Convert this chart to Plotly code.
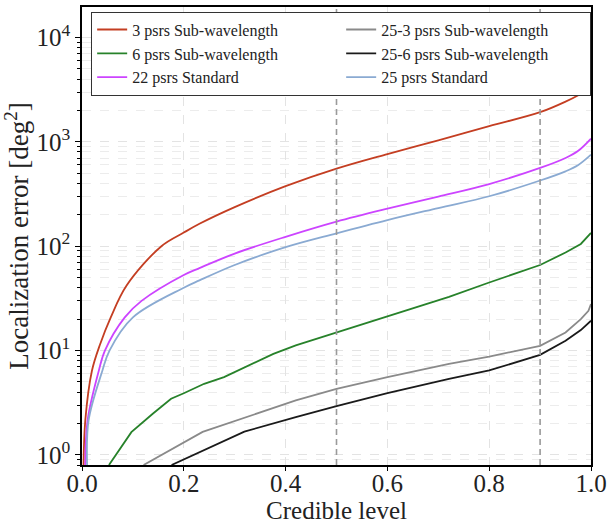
import numpy as np
import plotly.graph_objects as go

# Credible level vs. localization area for each pulsar configuration
red_x = [0.003, 0.0065, 0.0195, 0.0356, 0.0565, 0.0876, 0.156, 0.2, 0.2307, 0.3, 0.4, 0.5, 0.6, 0.7, 0.8, 0.9, 0.95, 0.975, 1.0]
red_y = [0.8, 2.15, 6.4, 11.5, 20.8, 42, 100, 135, 164, 237, 376, 554, 764, 1035, 1413, 1923, 2430, 2800, 3310]

mag_x = [0.0065, 0.011, 0.033, 0.045, 0.084, 0.117, 0.2, 0.2307, 0.3, 0.4, 0.5, 0.6, 0.7, 0.8, 0.9, 0.95, 0.975, 1.0]
mag_y = [0.8, 2.15, 6.4, 10, 20.8, 29.9, 53, 61.7, 85, 123, 172, 229, 299, 394, 562, 700, 820, 1072]

blue_x = [0.01, 0.013, 0.04, 0.054, 0.1, 0.2, 0.2307, 0.3, 0.4, 0.5, 0.6, 0.7, 0.8, 0.9, 0.95, 0.975, 1.0]
blue_y = [0.8, 2.15, 6.4, 10, 20.8, 40, 47, 66, 98, 133, 178, 232, 301, 426, 522, 600, 754]

green_x = [0.053, 0.097, 0.139, 0.175, 0.2, 0.24, 0.279, 0.376, 0.42, 0.5, 0.6, 0.721, 0.8, 0.9, 0.95, 0.98, 1.0]
green_y = [0.8, 1.65, 2.48, 3.45, 3.9, 4.8, 5.56, 9.3, 11.2, 14.9, 21.2, 32.7, 44.9, 66, 87, 105, 134]

gray_x = [0.121, 0.237, 0.42, 0.5, 0.6, 0.721, 0.8, 0.9, 0.95, 0.98, 0.995, 1.0]
gray_y = [0.8, 1.66, 3.33, 4.3, 5.56, 7.46, 8.75, 11.1, 14.9, 20, 24, 27.9]

black_x = [0.176, 0.319, 0.42, 0.5, 0.6, 0.721, 0.8, 0.9, 0.95, 0.98, 1.0]
black_y = [0.8, 1.67, 2.3, 2.94, 3.9, 5.36, 6.44, 9.1, 12.4, 15.7, 19.3]

x_ticks = [0.0, 0.2, 0.4, 0.6, 0.8, 1.0]
y_ticks = [1, 10, 100, 1000, 10000]
marker_levels = [0.5, 0.9]

FONT = "Liberation Serif"
TEXT = "#222222"

# legend fills row by row, so pairs are (left column, right column)
series = [
    ("3 psrs Sub-wavelength", red_x, red_y, "#c43e22", "spline"),
    ("25-3 psrs Sub-wavelength", gray_x, gray_y, "#8a8a8a", "linear"),
    ("6 psrs Sub-wavelength", green_x, green_y, "#27822a", "linear"),
    ("25-6 psrs Sub-wavelength", black_x, black_y, "#1a1a1a", "linear"),
    ("22 psrs Standard", mag_x, mag_y, "#cc44ff", "spline"),
    ("25 psrs Standard", blue_x, blue_y, "#8aaad2", "spline"),
]

fig = go.Figure()
for name, xs, ys, color, shape in series:
    fig.add_trace(go.Scatter(
        x=xs, y=ys, mode="lines", name=name,
        line=dict(color=color, width=1.8, shape=shape, smoothing=1.0),
    ))

for lv in marker_levels:
    fig.add_shape(type="line", xref="x", yref="paper", x0=lv, x1=lv, y0=0, y1=1,
                  line=dict(color="#9a9a9a", width=1.6, dash="6px,4px"), layer="above")

minor_vals = [m * 10 ** k for k in range(-1, 5) for m in range(2, 10)]
minor_vals = [v for v in minor_vals if 0.8 <= v <= 19600]

fig.update_layout(
    width=612, height=527,
    margin=dict(l=82, r=17, t=5, b=62),
    paper_bgcolor="white", plot_bgcolor="white",
    font=dict(family=FONT, color=TEXT),
    showlegend=True,
    legend=dict(
        x=0.018, y=0.99, xanchor="left", yanchor="top",
        orientation="h", entrywidth=204, entrywidthmode="pixels",
        bgcolor="white", bordercolor="#333333", borderwidth=1,
        font=dict(family=FONT, size=16, color=TEXT),
        itemwidth=30, tracegroupgap=0,
    ),
    xaxis=dict(
        range=[0, 1], tickvals=x_ticks, ticktext=[f"{v:.1f}" for v in x_ticks],
        ticks="outside", ticklen=4, tickwidth=1, tickcolor="black",
        ticklabelstandoff=-9,
        showline=True, linecolor="black", linewidth=1.5, mirror=True,
        showgrid=True, gridcolor="#e3e3e3", griddash="dash", gridwidth=1,
        zeroline=False,
        tickfont=dict(family=FONT, size=25, color=TEXT),
        title=dict(text="Credible level", font=dict(family=FONT, size=25, color=TEXT), standoff=6),
    ),
    yaxis=dict(
        type="log", range=[np.log10(0.8), np.log10(19600)],
        tickvals=y_ticks, ticktext=[f"10<sup>{k}</sup>" for k in range(5)],
        ticks="outside", ticklen=5, tickwidth=1, tickcolor="black",
        showline=True, linecolor="black", linewidth=1.5, mirror=True,
        showgrid=True, gridcolor="#e3e3e3", griddash="dash", gridwidth=1,
        zeroline=False,
        minor=dict(tickvals=minor_vals, ticks="outside", ticklen=3, tickcolor="black",
                   showgrid=True, gridcolor="#ececec", griddash="dash", gridwidth=1),
        tickfont=dict(family=FONT, size=25, color=TEXT),
        title=dict(text="Localization error [deg<sup>2</sup>]",
                   font=dict(family=FONT, size=27, color=TEXT), standoff=4),
    ),
)

fig.write_html("out.html")
